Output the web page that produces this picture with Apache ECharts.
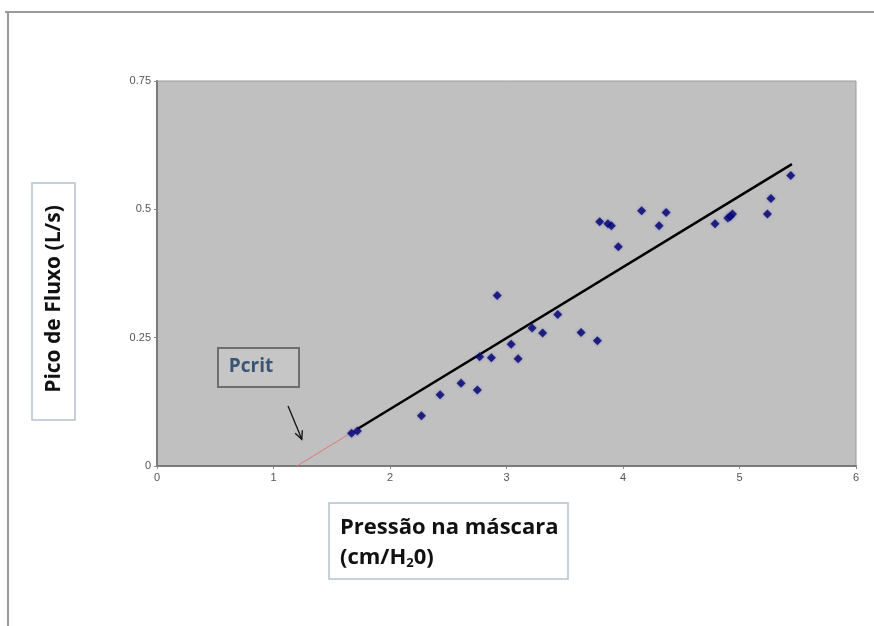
<!DOCTYPE html>
<html>
<head>
<meta charset="utf-8">
<script src="https://cdn.jsdelivr.net/npm/echarts@6/dist/echarts.min.js"></script>
<style>html,body{margin:0;padding:0;background:#fff;}#c{width:874px;height:626px;}</style>
</head>
<body>
<div id="c"></div>
<script>
// Data
const pressure = [1.67, 1.72, 2.27, 2.43, 2.61, 2.75, 2.77, 2.87, 2.92, 3.04, 3.10, 3.22, 3.31, 3.44, 3.64, 3.78, 3.80, 3.87, 3.90, 3.96, 4.16, 4.31, 4.37, 4.79, 4.90, 4.92, 4.94, 5.24, 5.27, 5.44];
const peakFlow = [0.064, 0.068, 0.098, 0.139, 0.161, 0.148, 0.213, 0.211, 0.332, 0.237, 0.209, 0.269, 0.259, 0.295, 0.260, 0.244, 0.476, 0.472, 0.468, 0.427, 0.497, 0.468, 0.494, 0.472, 0.483, 0.486, 0.491, 0.491, 0.521, 0.566];
const fitX = [1.72, 5.45];
const fitY = [0.072, 0.588];
const extrapX = [1.20, 1.72];
const extrapY = [0.0, 0.072];
const arrowFrom = [1.125, 0.117];
const arrowTo = [1.243, 0.052];
const xTicks = [0, 1, 2, 3, 4, 5, 6];
const yTicks = [0, 0.25, 0.5, 0.75];
const yTitle = 'Pico de Fluxo (L/s)';
const xTitle1 = 'Pressão na máscara';
const pcritLabel = 'Pcrit';

const chart = echarts.init(document.getElementById('c'));
const pts = pressure.map((p, i) => [p, peakFlow[i]]);
const fit = fitX.map((x, i) => [x, fitY[i]]);
const ext = extrapX.map((x, i) => [x, extrapY[i]]);

chart.setOption({
  animation: false,
  backgroundColor: '#ffffff',
  grid: { left: 157, right: 18, top: 81, bottom: 160, show: true, backgroundColor: '#c0c0c0', borderColor: '#9a9a9a', borderWidth: 1 },
  xAxis: {
    type: 'value', min: xTicks[0], max: xTicks[xTicks.length - 1], interval: 1,
    axisLine: { show: true, lineStyle: { color: '#7a7a7a', width: 2 } },
    axisTick: { show: true, length: 3, lineStyle: { color: '#888' } },
    splitLine: { show: false },
    axisLabel: { fontSize: 11, color: '#555', fontFamily: 'Liberation Sans', margin: 6 }
  },
  yAxis: {
    type: 'value', min: yTicks[0], max: yTicks[yTicks.length - 1], interval: 0.25,
    axisLine: { show: true, lineStyle: { color: '#7a7a7a', width: 2 } },
    axisTick: { show: true, length: 3, lineStyle: { color: '#888' } },
    splitLine: { show: false },
    axisLabel: { fontSize: 11, color: '#555', fontFamily: 'Liberation Sans', margin: 6 }
  },
  series: [
    { type: 'line', data: ext, showSymbol: false, lineStyle: { color: '#e07878', width: 1 }, z: 2 },
    { type: 'line', data: fit, showSymbol: false, lineStyle: { color: '#000000', width: 2.5 }, z: 3 },
    { type: 'scatter', data: pts, symbol: 'diamond', symbolSize: 9, itemStyle: { color: '#000070', shadowBlur: 3, shadowColor: 'rgba(60,60,200,0.5)' }, z: 4 }
  ]
});

const a0 = chart.convertToPixel({ gridIndex: 0 }, arrowFrom);
const a1 = chart.convertToPixel({ gridIndex: 0 }, arrowTo);
const ang = Math.atan2(a1[1] - a0[1], a1[0] - a0[0]);
const hl = 9, ha = 0.45;
const h1 = [a1[0] - hl * Math.cos(ang - ha), a1[1] - hl * Math.sin(ang - ha)];
const h2 = [a1[0] - hl * Math.cos(ang + ha), a1[1] - hl * Math.sin(ang + ha)];

const titleFont = 'Open Sans';
chart.setOption({
  graphic: [
    // outer frame
    { type: 'line', shape: { x1: 5, y1: 12, x2: 874, y2: 12 }, style: { stroke: '#9a9a9a', lineWidth: 2 } },
    { type: 'line', shape: { x1: 8, y1: 12, x2: 8, y2: 626 }, style: { stroke: '#9a9a9a', lineWidth: 2 } },
    // Y title box
    { type: 'rect', shape: { x: 32, y: 183, width: 43, height: 237 }, style: { fill: '#ffffff', stroke: '#b4c2d0', lineWidth: 1.5 } },
    { type: 'text', x: 54, y: 299, rotation: Math.PI / 2,
      style: { text: yTitle, fontSize: 21, fontWeight: 'bold', fontFamily: titleFont, fill: '#111', align: 'center', verticalAlign: 'middle' } },
    // X title box
    { type: 'rect', shape: { x: 329, y: 503, width: 239, height: 76 }, style: { fill: '#ffffff', stroke: '#b4c2d0', lineWidth: 1.5 } },
    { type: 'text', x: 340, y: 513,
      style: { text: xTitle1 + '\n{n|(cm/H}{s|2}{n|0)}', fontSize: 22, fontWeight: 'bold', fontFamily: titleFont, fill: '#111', lineHeight: 30,
        rich: { n: { fontSize: 22, fontWeight: 'bold', fontFamily: titleFont, fill: '#111', lineHeight: 30 },
                s: { fontSize: 13, fontWeight: 'bold', fontFamily: titleFont, fill: '#111', padding: [11, 0, 0, 0], lineHeight: 30 } } } },
    // Pcrit box
    { type: 'rect', shape: { x: 218, y: 348, width: 81, height: 39 }, style: { fill: '#c6c6c6', stroke: '#6e6e6e', lineWidth: 2 } },
    { type: 'text', x: 251, y: 367, style: { text: pcritLabel, fontSize: 19, fontWeight: 'bold', fontFamily: titleFont, fill: '#3a5574', align: 'center', verticalAlign: 'middle' } },
    // arrow
    { type: 'line', shape: { x1: a0[0], y1: a0[1], x2: a1[0], y2: a1[1] }, style: { stroke: '#111', lineWidth: 1.3 } },
    { type: 'polyline', shape: { points: [h1, a1, h2] }, style: { stroke: '#111', lineWidth: 1.3, fill: null } }
  ]
});
</script>
</body>
</html>
